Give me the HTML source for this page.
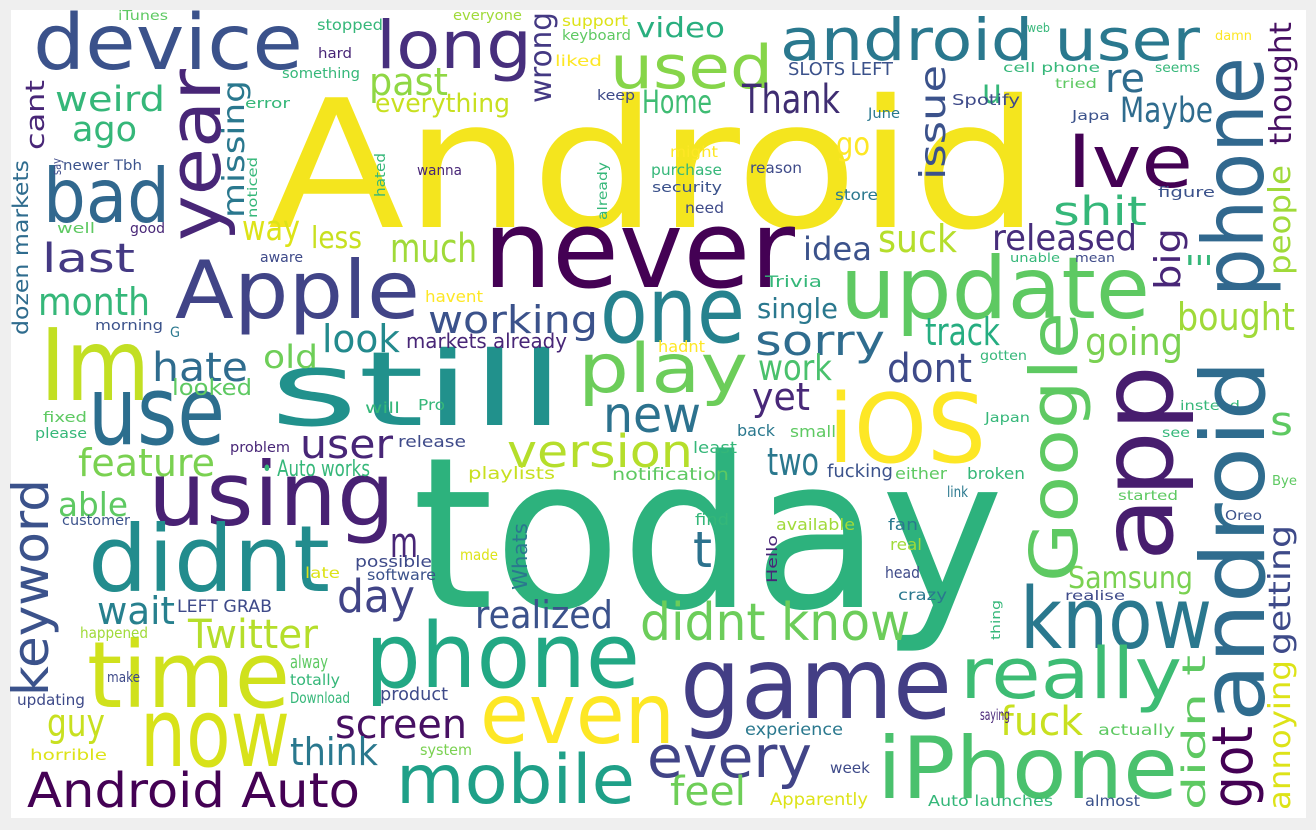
<!DOCTYPE html>
<html><head><meta charset="utf-8"><style>
html,body{margin:0;padding:0;background:#efefef;}
svg{display:block;}
text{font-family:"DejaVu Sans","Liberation Sans",sans-serif;}
</style></head><body>
<svg width="1316" height="830" viewBox="0 0 1316 830">
<rect x="0" y="0" width="1316" height="830" fill="#efefef"/>
<rect x="11" y="10" width="1295" height="808" fill="#ffffff"/>
<g id="words">
<text x="268" y="227" font-size="178" fill="#f4e51e" textLength="772" lengthAdjust="spacingAndGlyphs">Android</text>
<text x="412" y="607" font-size="210" fill="#2db27d" textLength="592" lengthAdjust="spacingAndGlyphs">today</text>
<text x="483" y="287" font-size="108" fill="#440154" textLength="312" lengthAdjust="spacingAndGlyphs">never</text>
<text x="840" y="318" font-size="86" fill="#5ec962" textLength="310" lengthAdjust="spacingAndGlyphs">update</text>
<text x="175" y="318" font-size="80" fill="#414487" textLength="245" lengthAdjust="spacingAndGlyphs">Apple</text>
<text x="600" y="342" font-size="92" fill="#26828e" textLength="145" lengthAdjust="spacingAndGlyphs">one</text>
<text x="270" y="425" font-size="103" fill="#21918c" textLength="295" lengthAdjust="spacingAndGlyphs">still</text>
<text x="88" y="444" font-size="95" fill="#2c6e8e" textLength="137" lengthAdjust="spacingAndGlyphs">use</text>
<text x="40" y="400" font-size="100" fill="#c2df23" textLength="110" lengthAdjust="spacingAndGlyphs">Im</text>
<text x="578" y="392" font-size="68" fill="#6ccd5a" textLength="170" lengthAdjust="spacingAndGlyphs">play</text>
<text x="828" y="462" font-size="95" fill="#fde725" textLength="158" lengthAdjust="spacingAndGlyphs">iOS</text>
<text x="603" y="432" font-size="50" fill="#2c728e" textLength="98" lengthAdjust="spacingAndGlyphs">new</text>
<text x="148" y="525" font-size="88" fill="#482173" textLength="247" lengthAdjust="spacingAndGlyphs">using</text>
<text x="88" y="591" font-size="92" fill="#228c8d" textLength="242" lengthAdjust="spacingAndGlyphs">didnt</text>
<text x="365" y="687" font-size="90" fill="#22a884" textLength="275" lengthAdjust="spacingAndGlyphs">phone</text>
<text x="680" y="718" font-size="100" fill="#433e85" textLength="272" lengthAdjust="spacingAndGlyphs">game</text>
<text x="87" y="707" font-size="92" fill="#d0e11c" textLength="203" lengthAdjust="spacingAndGlyphs">time</text>
<text x="140" y="766" font-size="95" fill="#d8e219" textLength="150" lengthAdjust="spacingAndGlyphs">now</text>
<text x="480" y="743" font-size="84" fill="#fde725" textLength="195" lengthAdjust="spacingAndGlyphs">even</text>
<text x="396" y="803" font-size="68" fill="#1fa088" textLength="239" lengthAdjust="spacingAndGlyphs">mobile</text>
<text x="877" y="798" font-size="86" fill="#4ac16d" textLength="301" lengthAdjust="spacingAndGlyphs">iPhone</text>
<text x="1020" y="648" font-size="85" fill="#2a788e" textLength="192" lengthAdjust="spacingAndGlyphs">know</text>
<text x="960" y="698" font-size="70" fill="#3dbc74" textLength="222" lengthAdjust="spacingAndGlyphs">really</text>
<text x="33" y="69" font-size="77" fill="#3b528b" textLength="270" lengthAdjust="spacingAndGlyphs">device</text>
<text x="376" y="68" font-size="66" fill="#472f7d" textLength="156" lengthAdjust="spacingAndGlyphs">long</text>
<text x="610" y="88" font-size="60" fill="#86d549" textLength="163" lengthAdjust="spacingAndGlyphs">used</text>
<text x="780" y="60" font-size="58" fill="#2a788e" textLength="420" lengthAdjust="spacingAndGlyphs">android user</text>
<text x="43" y="222" font-size="75" fill="#31688e" textLength="127" lengthAdjust="spacingAndGlyphs">bad</text>
<text x="1067" y="187" font-size="73" fill="#440154" textLength="126" lengthAdjust="spacingAndGlyphs">Ive</text>
<text x="27" y="807" font-size="48" fill="#440154" textLength="333" lengthAdjust="spacingAndGlyphs">Android Auto</text>
<text x="647" y="777" font-size="58" fill="#414487" textLength="165" lengthAdjust="spacingAndGlyphs">every</text>
<text x="640" y="640" font-size="52" fill="#6ccd5a" textLength="270" lengthAdjust="spacingAndGlyphs">didnt know</text>
<text x="507" y="467" font-size="45" fill="#b5de2b" textLength="186" lengthAdjust="spacingAndGlyphs">version</text>
<text x="755" y="355" font-size="42" fill="#2f6c8e" textLength="130" lengthAdjust="spacingAndGlyphs">sorry</text>
<text x="335" y="738" font-size="40" fill="#471063" textLength="132" lengthAdjust="spacingAndGlyphs">screen</text>
<text x="188" y="648" font-size="40" fill="#b5de2b" textLength="130" lengthAdjust="spacingAndGlyphs">Twitter</text>
<text x="78" y="476" font-size="38" fill="#7ad151" textLength="137" lengthAdjust="spacingAndGlyphs">feature</text>
<text x="38" y="315" font-size="38" fill="#35b779" textLength="112" lengthAdjust="spacingAndGlyphs">month</text>
<text x="42" y="272" font-size="40" fill="#443983" textLength="93" lengthAdjust="spacingAndGlyphs">last</text>
<text x="152" y="381" font-size="40" fill="#2f6c8e" textLength="96" lengthAdjust="spacingAndGlyphs">hate</text>
<text x="390" y="262" font-size="40" fill="#a0da39" textLength="87" lengthAdjust="spacingAndGlyphs">much</text>
<text x="428" y="333" font-size="38" fill="#3b528b" textLength="170" lengthAdjust="spacingAndGlyphs">working</text>
<text x="322" y="352" font-size="38" fill="#238a8d" textLength="78" lengthAdjust="spacingAndGlyphs">look</text>
<text x="300" y="458" font-size="40" fill="#482677" textLength="93" lengthAdjust="spacingAndGlyphs">user</text>
<text x="55" y="111" font-size="35" fill="#35b779" textLength="110" lengthAdjust="spacingAndGlyphs">weird</text>
<text x="72" y="141" font-size="35" fill="#35b779" textLength="65" lengthAdjust="spacingAndGlyphs">ago</text>
<text x="369" y="95" font-size="38" fill="#8fd744" textLength="79" lengthAdjust="spacingAndGlyphs">past</text>
<text x="375" y="112" font-size="26" fill="#c8e020" textLength="135" lengthAdjust="spacingAndGlyphs">everything</text>
<text x="636" y="37" font-size="28" fill="#29af7f" textLength="89" lengthAdjust="spacingAndGlyphs">video</text>
<text x="742" y="113" font-size="40" fill="#3f2d72" textLength="98" lengthAdjust="spacingAndGlyphs">Thank</text>
<text x="642" y="113" font-size="32" fill="#3fbc73" textLength="70" lengthAdjust="spacingAndGlyphs">Home</text>
<text x="1120" y="122" font-size="35" fill="#2f6c8e" textLength="93" lengthAdjust="spacingAndGlyphs">Maybe</text>
<text x="1105" y="92" font-size="40" fill="#2f6c8e" textLength="40" lengthAdjust="spacingAndGlyphs">re</text>
<text x="1053" y="225" font-size="40" fill="#35b779" textLength="94" lengthAdjust="spacingAndGlyphs">shit</text>
<text x="992" y="250" font-size="36" fill="#472d7b" textLength="145" lengthAdjust="spacingAndGlyphs">released</text>
<text x="803" y="260" font-size="32" fill="#3b528b" textLength="69" lengthAdjust="spacingAndGlyphs">idea</text>
<text x="878" y="252" font-size="38" fill="#b5de2b" textLength="79" lengthAdjust="spacingAndGlyphs">suck</text>
<text x="836" y="155" font-size="32" fill="#fde725" textLength="34" lengthAdjust="spacingAndGlyphs">go</text>
<text x="887" y="382" font-size="40" fill="#3e4a89" textLength="85" lengthAdjust="spacingAndGlyphs">dont</text>
<text x="925" y="345" font-size="38" fill="#26ad81" textLength="75" lengthAdjust="spacingAndGlyphs">track</text>
<text x="1085" y="355" font-size="38" fill="#7ad151" textLength="98" lengthAdjust="spacingAndGlyphs">going</text>
<text x="1177" y="330" font-size="38" fill="#a0da39" textLength="118" lengthAdjust="spacingAndGlyphs">bought</text>
<text x="758" y="380" font-size="36" fill="#4ac16d" textLength="74" lengthAdjust="spacingAndGlyphs">work</text>
<text x="752" y="410" font-size="38" fill="#482878" textLength="58" lengthAdjust="spacingAndGlyphs">yet</text>
<text x="263" y="368" font-size="32" fill="#6ece58" textLength="55" lengthAdjust="spacingAndGlyphs">old</text>
<text x="767" y="475" font-size="38" fill="#2a788e" textLength="52" lengthAdjust="spacingAndGlyphs">two</text>
<text x="337" y="612" font-size="45" fill="#414487" textLength="78" lengthAdjust="spacingAndGlyphs">day</text>
<text x="97" y="624" font-size="38" fill="#27808e" textLength="78" lengthAdjust="spacingAndGlyphs">wait</text>
<text x="1068" y="588" font-size="30" fill="#7ad151" textLength="125" lengthAdjust="spacingAndGlyphs">Samsung</text>
<text x="475" y="628" font-size="38" fill="#3b528b" textLength="138" lengthAdjust="spacingAndGlyphs">realized</text>
<text x="47" y="736" font-size="38" fill="#c8e020" textLength="58" lengthAdjust="spacingAndGlyphs">guy</text>
<text x="290" y="765" font-size="38" fill="#2a788e" textLength="88" lengthAdjust="spacingAndGlyphs">think</text>
<text x="670" y="805" font-size="40" fill="#6ece58" textLength="76" lengthAdjust="spacingAndGlyphs">feel</text>
<text x="1000" y="735" font-size="40" fill="#c8e020" textLength="83" lengthAdjust="spacingAndGlyphs">fuck</text>
<text x="390" y="557" font-size="42" fill="#482677" textLength="28" lengthAdjust="spacingAndGlyphs">m</text>
<text x="693" y="567" font-size="50" fill="#2c728e" textLength="19" lengthAdjust="spacingAndGlyphs">t</text>
<text x="1270" y="435" font-size="40" fill="#5ec962" textLength="23" lengthAdjust="spacingAndGlyphs">s</text>
<text x="982" y="103" font-size="34" fill="#35b779" textLength="20" lengthAdjust="spacingAndGlyphs">u</text>
<text x="58" y="516" font-size="33" fill="#5ec962" textLength="70" lengthAdjust="spacingAndGlyphs">able</text>
<text x="262" y="476" font-size="22" fill="#35b779" textLength="108" lengthAdjust="spacingAndGlyphs">• Auto works</text>
<text x="242" y="240" font-size="35" fill="#dde318" textLength="58" lengthAdjust="spacingAndGlyphs">way</text>
<text x="311" y="248" font-size="30" fill="#c8e020" textLength="51" lengthAdjust="spacingAndGlyphs">less</text>
<text x="757" y="318" font-size="28" fill="#2a788e" textLength="81" lengthAdjust="spacingAndGlyphs">single</text>
<text x="788" y="75" font-size="18" fill="#3b528b" textLength="105" lengthAdjust="spacingAndGlyphs">SLOTS LEFT</text>
<text x="406" y="348" font-size="20" fill="#482677" textLength="161" lengthAdjust="spacingAndGlyphs">markets already</text>
<text x="177" y="612" font-size="17" fill="#3e4a89" textLength="95" lengthAdjust="spacingAndGlyphs">LEFT GRAB</text>
<text x="380" y="700" font-size="18" fill="#3e4a89" textLength="68" lengthAdjust="spacingAndGlyphs">product</text>
<text x="745" y="735" font-size="17" fill="#2a788e" textLength="98" lengthAdjust="spacingAndGlyphs">experience</text>
<text x="770" y="805" font-size="17" fill="#dde318" textLength="98" lengthAdjust="spacingAndGlyphs">Apparently</text>
<text x="928" y="806" font-size="15" fill="#35b779" textLength="125" lengthAdjust="spacingAndGlyphs">Auto launches</text>
<text x="1085" y="806" font-size="15" fill="#3b528b" textLength="55" lengthAdjust="spacingAndGlyphs">almost</text>
<text x="1098" y="735" font-size="15" fill="#5ec962" textLength="77" lengthAdjust="spacingAndGlyphs">actually</text>
<text x="612" y="480" font-size="17" fill="#5ec962" textLength="117" lengthAdjust="spacingAndGlyphs">notification</text>
<text x="468" y="479" font-size="17" fill="#c8e020" textLength="87" lengthAdjust="spacingAndGlyphs">playlists</text>
<text x="398" y="447" font-size="16" fill="#3e4a89" textLength="68" lengthAdjust="spacingAndGlyphs">release</text>
<text x="827" y="477" font-size="18" fill="#3b528b" textLength="66" lengthAdjust="spacingAndGlyphs">fucking</text>
<text x="895" y="479" font-size="16" fill="#5ec962" textLength="52" lengthAdjust="spacingAndGlyphs">either</text>
<text x="967" y="479" font-size="16" fill="#35b779" textLength="58" lengthAdjust="spacingAndGlyphs">broken</text>
<text x="947" y="497" font-size="15" fill="#2a788e" textLength="21" lengthAdjust="spacingAndGlyphs">link</text>
<text x="737" y="436" font-size="16" fill="#2a788e" textLength="38" lengthAdjust="spacingAndGlyphs">back</text>
<text x="790" y="437" font-size="16" fill="#5ec962" textLength="46" lengthAdjust="spacingAndGlyphs">small</text>
<text x="693" y="453" font-size="16" fill="#35b779" textLength="44" lengthAdjust="spacingAndGlyphs">least</text>
<text x="355" y="567" font-size="16" fill="#3e4a89" textLength="77" lengthAdjust="spacingAndGlyphs">possible</text>
<text x="367" y="580" font-size="15" fill="#3b528b" textLength="69" lengthAdjust="spacingAndGlyphs">software</text>
<text x="305" y="578" font-size="15" fill="#dde318" textLength="35" lengthAdjust="spacingAndGlyphs">late</text>
<text x="460" y="560" font-size="15" fill="#dde318" textLength="38" lengthAdjust="spacingAndGlyphs">made</text>
<text x="695" y="525" font-size="16" fill="#35b779" textLength="34" lengthAdjust="spacingAndGlyphs">find</text>
<text x="776" y="530" font-size="16" fill="#a0da39" textLength="79" lengthAdjust="spacingAndGlyphs">available</text>
<text x="888" y="530" font-size="16" fill="#2a788e" textLength="30" lengthAdjust="spacingAndGlyphs">fan</text>
<text x="890" y="550" font-size="16" fill="#a0da39" textLength="32" lengthAdjust="spacingAndGlyphs">real</text>
<text x="885" y="578" font-size="16" fill="#3e4a89" textLength="35" lengthAdjust="spacingAndGlyphs">head</text>
<text x="898" y="600" font-size="15" fill="#2a788e" textLength="49" lengthAdjust="spacingAndGlyphs">crazy</text>
<text x="420" y="755" font-size="15" fill="#7ad151" textLength="52" lengthAdjust="spacingAndGlyphs">system</text>
<text x="830" y="773" font-size="15" fill="#3e4a89" textLength="40" lengthAdjust="spacingAndGlyphs">week</text>
<text x="118" y="20" font-size="13" fill="#5ec962" textLength="50" lengthAdjust="spacingAndGlyphs">iTunes</text>
<text x="245" y="108" font-size="14" fill="#35b779" textLength="45" lengthAdjust="spacingAndGlyphs">error</text>
<text x="63" y="170" font-size="14" fill="#3b528b" textLength="79" lengthAdjust="spacingAndGlyphs">newer Tbh</text>
<text x="57" y="233" font-size="14" fill="#5ec962" textLength="38" lengthAdjust="spacingAndGlyphs">well</text>
<text x="130" y="233" font-size="14" fill="#482677" textLength="35" lengthAdjust="spacingAndGlyphs">good</text>
<text x="260" y="262" font-size="14" fill="#3e4a89" textLength="43" lengthAdjust="spacingAndGlyphs">aware</text>
<text x="95" y="330" font-size="14" fill="#3b528b" textLength="68" lengthAdjust="spacingAndGlyphs">morning</text>
<text x="170" y="337" font-size="14" fill="#2a788e" textLength="10" lengthAdjust="spacingAndGlyphs">G</text>
<text x="172" y="395" font-size="22" fill="#5ec962" textLength="80" lengthAdjust="spacingAndGlyphs">looked</text>
<text x="43" y="422" font-size="14" fill="#5ec962" textLength="44" lengthAdjust="spacingAndGlyphs">fixed</text>
<text x="35" y="438" font-size="14" fill="#35b779" textLength="52" lengthAdjust="spacingAndGlyphs">please</text>
<text x="230" y="452" font-size="14" fill="#482677" textLength="60" lengthAdjust="spacingAndGlyphs">problem</text>
<text x="62" y="525" font-size="14" fill="#3b528b" textLength="68" lengthAdjust="spacingAndGlyphs">customer</text>
<text x="80" y="638" font-size="15" fill="#a0da39" textLength="68" lengthAdjust="spacingAndGlyphs">happened</text>
<text x="290" y="668" font-size="18" fill="#5ec962" textLength="38" lengthAdjust="spacingAndGlyphs">alway</text>
<text x="290" y="685" font-size="15" fill="#35b779" textLength="50" lengthAdjust="spacingAndGlyphs">totally</text>
<text x="290" y="703" font-size="15" fill="#35b779" textLength="60" lengthAdjust="spacingAndGlyphs">Download</text>
<text x="107" y="682" font-size="14" fill="#3e4a89" textLength="33" lengthAdjust="spacingAndGlyphs">make</text>
<text x="17" y="705" font-size="15" fill="#3e4a89" textLength="68" lengthAdjust="spacingAndGlyphs">updating</text>
<text x="30" y="760" font-size="15" fill="#dde318" textLength="77" lengthAdjust="spacingAndGlyphs">horrible</text>
<text x="317" y="30" font-size="15" fill="#35b779" textLength="66" lengthAdjust="spacingAndGlyphs">stopped</text>
<text x="318" y="58" font-size="14" fill="#482677" textLength="34" lengthAdjust="spacingAndGlyphs">hard</text>
<text x="282" y="78" font-size="14" fill="#35b779" textLength="78" lengthAdjust="spacingAndGlyphs">something</text>
<text x="453" y="20" font-size="14" fill="#a0da39" textLength="69" lengthAdjust="spacingAndGlyphs">everyone</text>
<text x="562" y="26" font-size="15" fill="#dde318" textLength="66" lengthAdjust="spacingAndGlyphs">support</text>
<text x="562" y="40" font-size="14" fill="#5ec962" textLength="69" lengthAdjust="spacingAndGlyphs">keyboard</text>
<text x="555" y="66" font-size="15" fill="#fde725" textLength="47" lengthAdjust="spacingAndGlyphs">liked</text>
<text x="597" y="100" font-size="14" fill="#3e4a89" textLength="38" lengthAdjust="spacingAndGlyphs">keep</text>
<text x="952" y="105" font-size="15" fill="#3e4a89" textLength="68" lengthAdjust="spacingAndGlyphs">Spotify</text>
<text x="868" y="118" font-size="14" fill="#2a788e" textLength="32" lengthAdjust="spacingAndGlyphs">June</text>
<text x="417" y="175" font-size="14" fill="#482677" textLength="45" lengthAdjust="spacingAndGlyphs">wanna</text>
<text x="670" y="157" font-size="15" fill="#fde725" textLength="48" lengthAdjust="spacingAndGlyphs">might</text>
<text x="651" y="175" font-size="15" fill="#35b779" textLength="71" lengthAdjust="spacingAndGlyphs">purchase</text>
<text x="652" y="192" font-size="14" fill="#3b528b" textLength="70" lengthAdjust="spacingAndGlyphs">security</text>
<text x="750" y="173" font-size="15" fill="#3e4a89" textLength="52" lengthAdjust="spacingAndGlyphs">reason</text>
<text x="835" y="200" font-size="15" fill="#2a788e" textLength="43" lengthAdjust="spacingAndGlyphs">store</text>
<text x="685" y="213" font-size="15" fill="#3e4a89" textLength="39" lengthAdjust="spacingAndGlyphs">need</text>
<text x="765" y="287" font-size="16" fill="#35b779" textLength="57" lengthAdjust="spacingAndGlyphs">Trivia</text>
<text x="425" y="302" font-size="16" fill="#fde725" textLength="58" lengthAdjust="spacingAndGlyphs">havent</text>
<text x="658" y="352" font-size="16" fill="#fde725" textLength="47" lengthAdjust="spacingAndGlyphs">hadnt</text>
<text x="418" y="410" font-size="15" fill="#35b779" textLength="27" lengthAdjust="spacingAndGlyphs">Pro</text>
<text x="365" y="413" font-size="15" fill="#35b779" textLength="35" lengthAdjust="spacingAndGlyphs">will</text>
<text x="1027" y="32" font-size="12" fill="#35b779" textLength="23" lengthAdjust="spacingAndGlyphs">web</text>
<text x="1215" y="40" font-size="13" fill="#fde725" textLength="37" lengthAdjust="spacingAndGlyphs">damn</text>
<text x="1003" y="72" font-size="13" fill="#35b779" textLength="97" lengthAdjust="spacingAndGlyphs">cell phone</text>
<text x="1155" y="72" font-size="13" fill="#35b779" textLength="45" lengthAdjust="spacingAndGlyphs">seems</text>
<text x="1055" y="88" font-size="13" fill="#5ec962" textLength="42" lengthAdjust="spacingAndGlyphs">tried</text>
<text x="1072" y="120" font-size="13" fill="#3b528b" textLength="38" lengthAdjust="spacingAndGlyphs">Japa</text>
<text x="1158" y="197" font-size="14" fill="#3b528b" textLength="57" lengthAdjust="spacingAndGlyphs">figure</text>
<text x="1010" y="262" font-size="12" fill="#35b779" textLength="50" lengthAdjust="spacingAndGlyphs">unable</text>
<text x="1075" y="262" font-size="12" fill="#3e4a89" textLength="40" lengthAdjust="spacingAndGlyphs">mean</text>
<text x="1185" y="265" font-size="13" fill="#35b779" textLength="28" lengthAdjust="spacingAndGlyphs">Ill</text>
<text x="980" y="360" font-size="13" fill="#35b779" textLength="47" lengthAdjust="spacingAndGlyphs">gotten</text>
<text x="1180" y="410" font-size="13" fill="#35b779" textLength="60" lengthAdjust="spacingAndGlyphs">instead</text>
<text x="1162" y="437" font-size="13" fill="#35b779" textLength="28" lengthAdjust="spacingAndGlyphs">see</text>
<text x="985" y="422" font-size="13" fill="#35b779" textLength="45" lengthAdjust="spacingAndGlyphs">Japan</text>
<text x="1272" y="485" font-size="13" fill="#5ec962" textLength="25" lengthAdjust="spacingAndGlyphs">Bye</text>
<text x="1118" y="500" font-size="13" fill="#5ec962" textLength="60" lengthAdjust="spacingAndGlyphs">started</text>
<text x="1225" y="520" font-size="13" fill="#3b528b" textLength="37" lengthAdjust="spacingAndGlyphs">Oreo</text>
<text x="1065" y="600" font-size="13" fill="#3e4a89" textLength="60" lengthAdjust="spacingAndGlyphs">realise</text>
<text x="980" y="720" font-size="15" fill="#482677" textLength="30" lengthAdjust="spacingAndGlyphs">saying</text>
<text transform="translate(220,241) rotate(-90)" font-size="72" fill="#482677" textLength="172" lengthAdjust="spacingAndGlyphs">year</text>
<text transform="translate(244,218) rotate(-90)" font-size="30" fill="#2a788e" textLength="138" lengthAdjust="spacingAndGlyphs">missing</text>
<text transform="translate(44,150) rotate(-90)" font-size="26" fill="#482677" textLength="70" lengthAdjust="spacingAndGlyphs">cant</text>
<text transform="translate(28,335) rotate(-90)" font-size="21" fill="#2f6c8e" textLength="175" lengthAdjust="spacingAndGlyphs">dozen markets</text>
<text transform="translate(61,175) rotate(-90)" font-size="12" fill="#3e4a89" textLength="17" lengthAdjust="spacingAndGlyphs">say</text>
<text transform="translate(257,218) rotate(-90)" font-size="13" fill="#35b779" textLength="61" lengthAdjust="spacingAndGlyphs">noticed</text>
<text transform="translate(48,696) rotate(-90)" font-size="50" fill="#3b528b" textLength="217" lengthAdjust="spacingAndGlyphs">keyword</text>
<text transform="translate(551,103) rotate(-90)" font-size="30" fill="#443983" textLength="91" lengthAdjust="spacingAndGlyphs">wrong</text>
<text transform="translate(945,180) rotate(-90)" font-size="36" fill="#3b528b" textLength="115" lengthAdjust="spacingAndGlyphs">issue</text>
<text transform="translate(385,197) rotate(-90)" font-size="14" fill="#35b779" textLength="44" lengthAdjust="spacingAndGlyphs">hated</text>
<text transform="translate(607,220) rotate(-90)" font-size="13" fill="#35b779" textLength="58" lengthAdjust="spacingAndGlyphs">already</text>
<text transform="translate(527,590) rotate(-90)" font-size="20" fill="#2a788e" textLength="67" lengthAdjust="spacingAndGlyphs">Whats</text>
<text transform="translate(777,583) rotate(-90)" font-size="14" fill="#482677" textLength="48" lengthAdjust="spacingAndGlyphs">Hello</text>
<text transform="translate(1077,582) rotate(-90)" font-size="66" fill="#5ec962" textLength="270" lengthAdjust="spacingAndGlyphs">Google</text>
<text transform="translate(1172,561) rotate(-90)" font-size="100" fill="#471d6e" textLength="196" lengthAdjust="spacingAndGlyphs">app</text>
<text transform="translate(1264,722) rotate(-90)" font-size="88" fill="#2f6c8e" textLength="362" lengthAdjust="spacingAndGlyphs">android</text>
<text transform="translate(1263,297) rotate(-90)" font-size="84" fill="#31688e" textLength="240" lengthAdjust="spacingAndGlyphs">phone</text>
<text transform="translate(1252,808) rotate(-90)" font-size="56" fill="#440154" textLength="82" lengthAdjust="spacingAndGlyphs">got</text>
<text transform="translate(1291,145) rotate(-90)" font-size="30" fill="#471063" textLength="123" lengthAdjust="spacingAndGlyphs">thought</text>
<text transform="translate(1290,275) rotate(-90)" font-size="30" fill="#a0da39" textLength="110" lengthAdjust="spacingAndGlyphs">people</text>
<text transform="translate(1180,290) rotate(-90)" font-size="36" fill="#482677" textLength="62" lengthAdjust="spacingAndGlyphs">big</text>
<text transform="translate(1290,655) rotate(-90)" font-size="30" fill="#3e4a89" textLength="130" lengthAdjust="spacingAndGlyphs">getting</text>
<text transform="translate(1290,810) rotate(-90)" font-size="30" fill="#dde318" textLength="150" lengthAdjust="spacingAndGlyphs">annoying</text>
<text transform="translate(1205,810) rotate(-90)" font-size="32" fill="#5ec962" textLength="155" lengthAdjust="spacingAndGlyphs">didn t</text>
<text transform="translate(1000,640) rotate(-90)" font-size="12" fill="#35b779" textLength="40" lengthAdjust="spacingAndGlyphs">thing</text>
</g>
</svg>
</body></html>
